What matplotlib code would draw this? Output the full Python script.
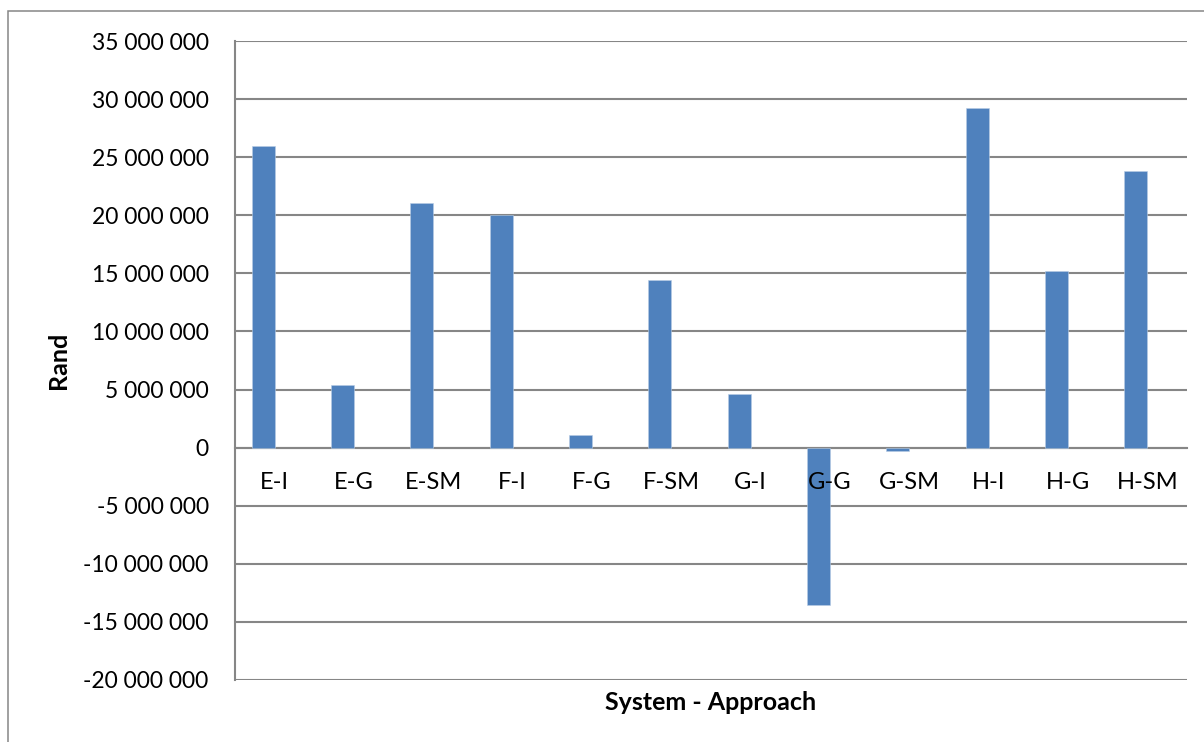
import matplotlib
matplotlib.use("Agg")
import matplotlib.pyplot as plt
from matplotlib.ticker import FuncFormatter, MultipleLocator
from matplotlib.patches import Rectangle

plt.rcParams['font.family'] = ['Lato', 'DejaVu Sans']

# System - approach combinations and their values in Rand
categories = ['E-I', 'E-G', 'E-SM', 'F-I', 'F-G', 'F-SM',
              'G-I', 'G-G', 'G-SM', 'H-I', 'H-G', 'H-SM']
rand_values = [26000000, 5350000, 21100000, 20000000, 1100000, 14450000,
               4580000, -13580000, -250000, 29250000, 15170000, 23800000]

grid_grey = '#868686'
bar_blue = '#4F81BD'

fig = plt.figure(figsize=(12.04, 7.42), dpi=100)
ax = fig.add_axes([0.1952, 0.0836, 0.7907, 0.8611])

x = list(range(len(categories)))
# bars sit on the left half of each category slot
ax.bar([i - 0.29 for i in x], rand_values, width=0.29, align='edge',
       color=bar_blue, edgecolor='#B9CDE5', linewidth=0.4, zorder=3)

ax.set_xlim(-0.5, len(categories) - 0.5)
ax.set_ylim(-20000000, 35000000)
ax.yaxis.set_major_locator(MultipleLocator(5000000))
ax.yaxis.set_major_formatter(FuncFormatter(lambda v, p: f"{v:,.0f}".replace(',', ' ')))
ax.grid(axis='y', color=grid_grey, linewidth=1.5, zorder=0)

# category labels just under the zero line, drawn over the bars
ax.set_xticks([])
for i, name in zip(x, categories):
    ax.text(i, -3000000, name, ha='center', va='center', fontsize=17, zorder=5)

ax.spines['bottom'].set_position(('data', 0))
ax.spines['bottom'].set_color(grid_grey)
ax.spines['bottom'].set_linewidth(1.5)
ax.spines['left'].set_color(grid_grey)
ax.spines['left'].set_linewidth(1.5)
ax.spines['top'].set_visible(False)
ax.spines['right'].set_visible(False)
ax.tick_params(axis='y', length=0, pad=19, labelsize=16.5)

fig.text(58 / 1204, 1 - 360 / 742, 'Rand', rotation=90, fontsize=18,
         fontweight='bold', ha='center', va='center')
fig.text(711 / 1204, 1 - 702 / 742, 'System - Approach', fontsize=18,
         fontweight='bold', ha='center', va='center')

# outer chart frame
fig.add_artist(Rectangle((8 / 1204, -0.1), 1.2, 1.1 - 11 / 742, fill=False,
                         edgecolor=grid_grey, linewidth=1.1,
                         transform=fig.transFigure))

fig.savefig('out.png', dpi=100)
